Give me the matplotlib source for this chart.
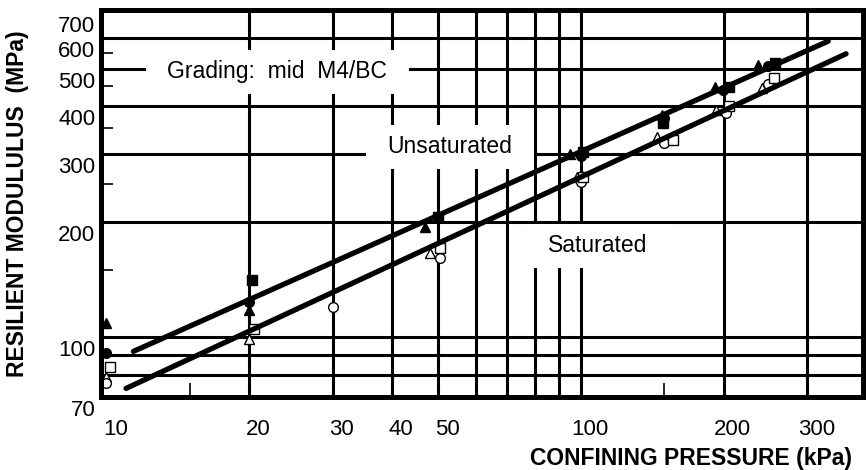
import matplotlib
matplotlib.use('Agg')
import matplotlib.pyplot as plt
import matplotlib.transforms as mtransforms
from matplotlib.path import Path
from matplotlib.ticker import FixedLocator, NullFormatter

plt.rcParams['font.family'] = ['Liberation Sans', 'DejaVu Sans']

# confining pressure (kPa) / resilient modulus (MPa)
unsat_tri_x = [10, 20, 47, 95, 148, 192, 236]
unsat_tri_y = [109, 118, 194, 300, 378, 449, 512]
unsat_circ_x = [10, 20, 50, 100, 150, 199, 248]
unsat_circ_y = [91, 124, 206, 297, 372, 441, 509]
unsat_sq_x = [20.3, 50, 101, 149, 205, 257]
unsat_sq_y = [141, 206, 303, 362, 447, 518]

sat_tri_x = [10, 20, 48, 98, 145, 193, 241]
sat_tri_y = [79, 99, 166, 262, 333, 391, 446]
sat_circ_x = [10, 30, 50.5, 100, 150, 202, 248]
sat_circ_y = [76, 120, 161, 254, 321, 384, 457]
sat_sq_x = [10.2, 20.5, 50.5, 101, 156, 205, 255]
sat_sq_y = [84, 105, 171, 262, 327, 400, 473]

# fitted lines (end points)
unsat_fit_x = [11.4, 332]
unsat_fit_y = [92, 590]
sat_fit_x = [11.0, 362]
sat_fit_y = [73.7, 547]

x_ticks = [10, 20, 30, 40, 50, 100, 200, 300]
y_ticks = [70, 100, 200, 300, 400, 500, 600, 700]
x_grid = [20, 30, 40, 50, 60, 70, 80, 90, 100, 200, 300]
y_grid = [80, 90, 100, 200, 300, 400, 500, 600]
x_minor = [15, 150]
y_minor = [150, 250, 350, 450, 550]


def label_box(x0, y0, width, height, mutation_size):
    # white box, wider than tall, to mask the grid behind the labels
    px = 0.94 * mutation_size
    py = 0.47 * mutation_size
    x0, y0 = x0 - px, y0 - py
    x1, y1 = x0 + width + 2 * px, y0 + height + 2 * py
    return Path([(x0, y0), (x1, y0), (x1, y1), (x0, y1), (x0, y0)], closed=True)


fig = plt.figure(figsize=(8.66, 4.70), dpi=100)
ax = fig.add_axes([0.1166, 0.1553, 0.8799, 0.8234])
ax.set_xscale('log')
ax.set_yscale('log')
ax.set_xlim(9.74, 393)
ax.set_ylim(70, 711)

for v in x_grid:
    ax.axvline(v, color='black', lw=2.2, zorder=1)
for v in y_grid:
    ax.axhline(v, color='black', lw=2.2, zorder=1)

box = dict(boxstyle=label_box, fc='white', ec='none')
ax.text(22.9, 491, 'Grading:  mid  M4/BC', ha='center', va='center',
        fontsize=16.5, bbox=box, zorder=2)
ax.text(53, 313, 'Unsaturated', ha='center', va='center',
        fontsize=16.5, bbox=box, zorder=2)
ax.text(108.6, 173, 'Saturated', ha='center', va='center',
        fontsize=16.5, bbox=box, zorder=2)

ms = 7
ax.plot(sat_tri_x, sat_tri_y, '^', ms=ms, mfc='white', mec='black', mew=1.0, ls='none', zorder=3)
ax.plot(sat_circ_x, sat_circ_y, 'o', ms=ms, mfc='white', mec='black', mew=1.0, ls='none', zorder=3)
ax.plot(sat_sq_x, sat_sq_y, 's', ms=ms, mfc='white', mec='black', mew=1.0, ls='none', zorder=3)

ax.plot(unsat_fit_x, unsat_fit_y, color='black', lw=3.8, solid_capstyle='round', zorder=4)
ax.plot(sat_fit_x, sat_fit_y, color='black', lw=3.8, solid_capstyle='round', zorder=4)

ax.plot(unsat_tri_x, unsat_tri_y, '^', ms=ms, color='black', ls='none', zorder=5)
ax.plot(unsat_circ_x, unsat_circ_y, 'o', ms=ms, color='black', ls='none', zorder=5)
ax.plot(unsat_sq_x, unsat_sq_y, 's', ms=ms, color='black', ls='none', zorder=5)

ax.set_xticks(x_ticks, labels=[str(v) for v in x_ticks])
ax.set_yticks(y_ticks, labels=[str(v) for v in y_ticks])
ax.xaxis.set_minor_locator(FixedLocator(x_minor))
ax.yaxis.set_minor_locator(FixedLocator(y_minor))
ax.xaxis.set_minor_formatter(NullFormatter())
ax.yaxis.set_minor_formatter(NullFormatter())
ax.tick_params(which='major', length=0, labelsize=16)
ax.tick_params(axis='x', which='major', pad=16)
ax.tick_params(axis='y', which='major', pad=4)
ax.tick_params(axis='x', which='minor', direction='in', length=10, width=1.2)
ax.tick_params(axis='y', which='minor', direction='in', length=8.4, width=1.2)

# the printed labels sit a little off their grid lines
dx = mtransforms.ScaledTranslation(9 / 100, 0, fig.dpi_scale_trans)
dy = mtransforms.ScaledTranslation(0, -11 / 100, fig.dpi_scale_trans)
for lab in ax.get_xticklabels():
    lab.set_transform(lab.get_transform() + dx)
for lab in ax.get_yticklabels():
    lab.set_transform(lab.get_transform() + dy)

for s in ax.spines.values():
    s.set_linewidth(3.6)
    s.set_zorder(6)

ax.set_xlabel('CONFINING PRESSURE (kPa)', fontsize=16.5, fontweight='bold',
              ha='right', va='center')
ax.xaxis.set_label_coords(0.9856, -0.158)
ax.set_ylabel('RESILIENT MODULULUS  (MPa)', fontsize=16.5, fontweight='bold',
              va='center')
ax.yaxis.set_label_coords(-0.110, 0.5)

fig.savefig('out.png', dpi=100)
